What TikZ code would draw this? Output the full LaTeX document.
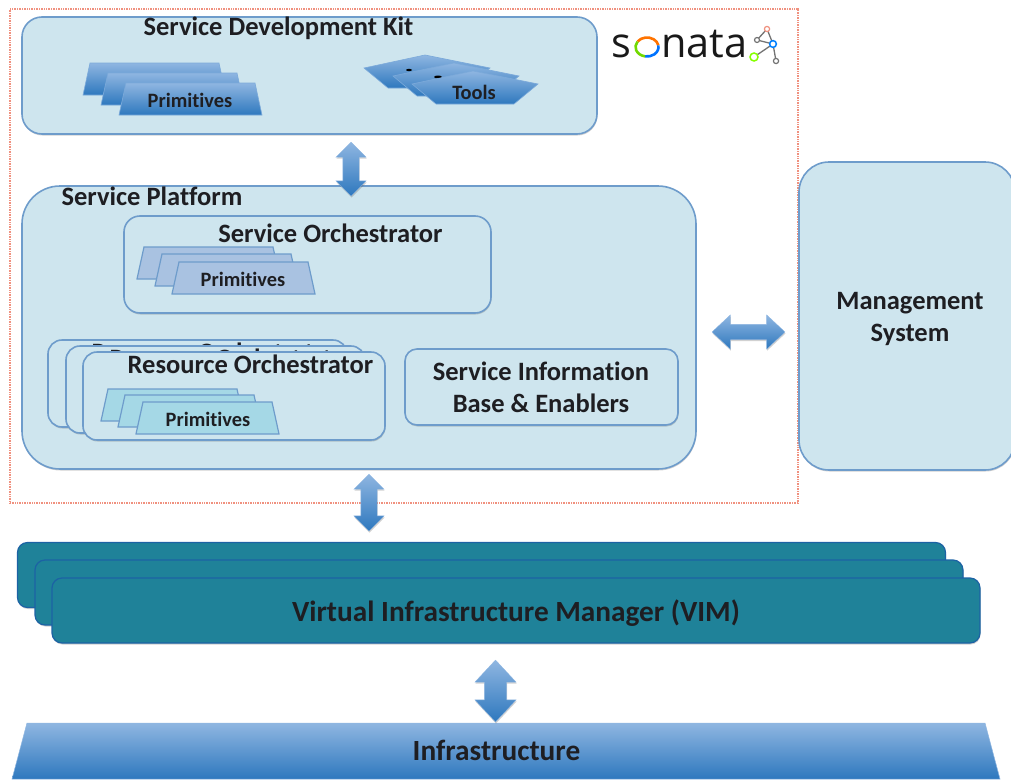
\documentclass[tikz,border=0pt]{standalone}
\usepackage{fontspec}
\setmainfont{Carlito}[BoldFont={Carlito Bold},RawFeature={-liga}]
\newfontfamily\logofont{Open Sans}
\usetikzlibrary{shapes.arrows,shadows}
\definecolor{panelfill}{HTML}{CEE5EE}
\definecolor{panelline}{HTML}{6E9CCB}
\definecolor{gradtop}{HTML}{8FB6E1}
\definecolor{gradbot}{HTML}{2E78BE}
\definecolor{txt}{HTML}{1E1E22}
\definecolor{vimfill}{HTML}{1F8299}
\definecolor{vimline}{HTML}{1C62A4}
\definecolor{redline}{HTML}{F0917F}
\definecolor{soprim}{HTML}{A9C2E1}
\definecolor{roprim}{HTML}{A5D8E6}
\tikzset{
  softshadow/.style={drop shadow={shadow xshift=0.5pt,shadow yshift=-1.5pt,opacity=.3,fill=black!60}},
  panel/.style={draw=panelline,line width=1.6pt,fill=panelfill,rectangle,inner sep=0pt,softshadow},
  vimbox/.style={draw=vimline,line width=1.2pt,fill=vimfill,rectangle,rounded corners=10pt,inner sep=0pt,minimum width=928pt,minimum height=65pt,softshadow},
  robox/.style={panel,rounded corners=14pt,minimum width=302pt,minimum height=88pt},
  lab/.style={font=\fontsize{26.5}{32}\selectfont\bfseries,text=txt,align=center,inner sep=0pt},
  lablarge/.style={font=\fontsize{29.3}{32}\selectfont\bfseries,text=txt,align=center,inner sep=0pt},
  small/.style={font=\fontsize{20.4}{22}\selectfont\bfseries,text=txt,inner sep=0pt},
  blockarrow/.style={shape=double arrow,shape border rotate=#1,top color=gradtop,bottom color=gradbot,draw=gradtop,line width=.3pt,softshadow},
  trapz/.pic={\path[pic actions] (7,0)--(136,0)--(143,32)--(0,32)--cycle;},
  tool/.pic={\path[pic actions] (0,13)--(61,0)--(126,13)--(102,33)--(24,33)--cycle;},
  primblue/.style={top color=gradtop,bottom color=gradbot,draw=gradtop!80!gradbot,line width=.6pt,softshadow},
  primso/.style={fill=soprim,draw=panelline,line width=1.2pt,softshadow},
  primro/.style={fill=roprim,draw=panelline,line width=1.2pt,softshadow},
  logotext/.style={inner sep=0pt,anchor=base west,font=\logofont\fontsize{41.5}{42}\selectfont,text=black!90},
  ringarc/.style={line width=2.6pt},
}
\begin{document}
\begin{tikzpicture}[x=1pt,y=-1pt]
\useasboundingbox (0,0) rectangle (1011,779);
% sonata outline
\node[rectangle,draw=redline,line width=1.5pt,dash pattern=on 1pt off .7pt,minimum width=788pt,minimum height=494pt,inner sep=0pt] (frame) at (404,256) {};
% SDK
\node[panel,rounded corners=20pt,minimum width=575pt,minimum height=117pt] (sdk) at (309.5,75.5) {};
\node[lab] (sdkt) at (278.5,28) {Service Development Kit};
\pic[primblue] at (83,63) {trapz};
\pic[primblue] at (101,73) {trapz};
\pic[primblue] at (119,83) {trapz};
\node[small] (p1) at (190,100) {Primitives};
\pic[primblue] at (364,55) {tool};
\fill[black] (409,70) ellipse (3pt and 1.2pt);
\pic[primblue] at (393,63) {tool};
\fill[black] (438,77) ellipse (4pt and 1.5pt);
\pic[primblue] at (412,71) {tool};
\node[small] (tools) at (474,92) {Tools};
% logo
\node[logotext] (logos) at (611.5,57) {s};
\draw[ringarc,orange!90!red] (647,47) ++(215:11.5 and 9.5) arc[start angle=215,end angle=350,x radius=11.5,y radius=9.5];
\draw[ringarc,blue!55!cyan] (647,47) ++(-10:11.5 and 9.5) arc[start angle=-10,end angle=100,x radius=11.5,y radius=9.5];
\draw[ringarc,lime!70!green!85!black] (647,47) ++(100:11.5 and 9.5) arc[start angle=100,end angle=215,x radius=11.5,y radius=9.5];
\node[logotext] (logon) at (661,57) {nata};
\coordinate (ln1) at (767,29);
\coordinate (ln2) at (757,40);
\coordinate (ln3) at (773,44);
\coordinate (ln4) at (754,57);
\coordinate (ln5) at (776,61);
\draw[black!55,line width=1.3pt] (ln1)--(ln2)--(ln3)--(ln1) (ln3)--(ln4) (ln3)--(ln5);
\draw[redline,line width=1.2pt,fill=white] (ln1) circle (2.6pt);
\draw[black!55,line width=1.2pt,fill=white] (ln2) circle (2.5pt);
\draw[blue!50!cyan,line width=1.5pt,fill=white] (ln3) circle (3.4pt);
\draw[lime!70!green,line width=1.5pt,fill=white] (ln4) circle (4pt);
\draw[black!55,line width=1.2pt,fill=white] (ln5) circle (2.6pt);
% Service platform
\node[panel,rounded corners=38pt,minimum width=674pt,minimum height=283pt] (sp) at (359,327.5) {};
\node[lab] (spt) at (152,196) {Service Platform};
\node[panel,rounded corners=16pt,minimum width=367pt,minimum height=97pt] (so) at (307.5,264.5) {};
\node[lab] (sot) at (330.5,233) {Service Orchestrator};
\pic[primso] at (137,247) {trapz};
\pic[primso] at (155,254) {trapz};
\pic[primso] at (172,262) {trapz};
\node[small] (p2) at (243,279) {Primitives};
\node[robox,minimum width=299pt,minimum height=87pt] (ro1) at (197.5,383.5) {};
\node[lab] (ro1t) at (214.5,352) {Resource Orchestrator};
\node[robox,minimum width=299pt,minimum height=87pt] (ro2) at (215.5,389.5) {};
\node[lab] (ro2t) at (232.5,358) {Resource Orchestrator};
\node[robox] (ro3) at (234,396) {};
\node[lab] (ro3t) at (250.5,364) {Resource Orchestrator};
\pic[primro] at (101,389) {trapz};
\pic[primro] at (118,395) {trapz};
\pic[primro] at (136,402) {trapz};
\node[small] (p3) at (208,419) {Primitives};
\node[panel,rounded corners=12pt,minimum width=273pt,minimum height=76pt] (sib) at (541.5,387) {};
\node[lab] (sibt) at (541,387) {Service Information\\Base \& Enablers};
% Management
\node[panel,rounded corners=30pt,minimum width=216pt,minimum height=308pt] (ms) at (907,316) {};
\node[lab] (mst) at (910,318.5) {Management\\System};
% VIM
\node[vimbox] (v1) at (481.5,575) {};
\node[vimbox] (v2) at (499,592.5) {};
\node[vimbox] (v3) at (516,610.5) {};
\node[lablarge] (vt) at (516,613) {Virtual Infrastructure Manager (VIM)};
% infrastructure
\path[top color=gradtop,bottom color=gradbot,draw=gradtop,line width=.5pt] (27,723)--(985,723)--(1000,779)--(12,779)--cycle;
\node[lablarge] (it) at (496.5,750) {Infrastructure};
% arrows
\node[blockarrow=90,inner sep=8pt,minimum height=54pt,double arrow head extend=7pt,double arrow tip angle=90] (a1) at (351,169) {};
\node[blockarrow=90,inner sep=8pt,minimum height=57pt,double arrow head extend=7pt,double arrow tip angle=90] (a2) at (369,502.5) {};
\node[blockarrow=90,inner sep=11pt,minimum height=62pt,double arrow head extend=9.5pt,double arrow tip angle=86] (a3) at (495.5,691) {};
\node[blockarrow=0,inner sep=7.5pt,minimum height=73pt,double arrow head extend=9.5pt,double arrow tip angle=86] (a4) at (748.5,332) {};
\end{tikzpicture}
\end{document}
